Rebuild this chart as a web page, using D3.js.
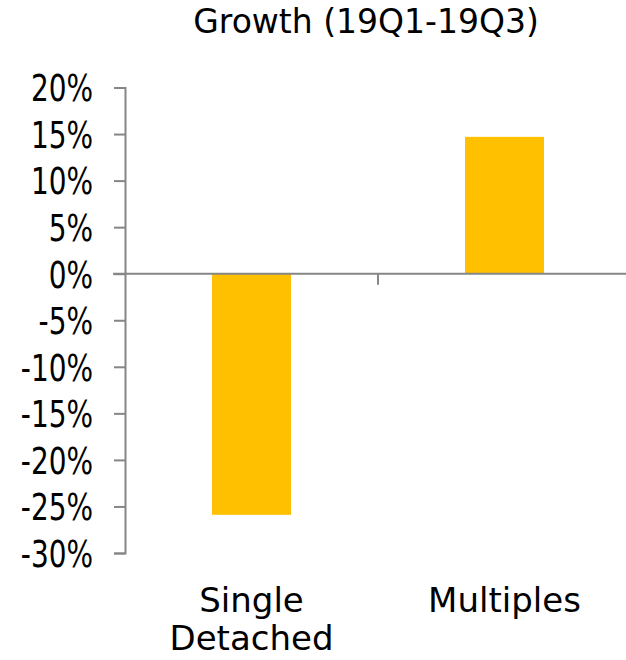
<!DOCTYPE html>
<html>
<head>
<meta charset="utf-8">
<script src="https://cdn.jsdelivr.net/npm/d3@7"></script>
<style>
  html, body { margin: 0; padding: 0; background: #fff; }
  svg { display: block; }
  text { font-family: "DejaVu Sans", sans-serif; fill: #000; }
</style>
</head>
<body>
<script>
// Growth by dwelling type, 19Q1 to 19Q3
const categories = [["Single", "Detached"], ["Multiples"]];
const growth = [-0.259, 0.147];
const tickValues = [0.20, 0.15, 0.10, 0.05, 0, -0.05, -0.10, -0.15, -0.20, -0.25, -0.30];
const title = "Growth (19Q1-19Q3)";

const W = 626, H = 660;
const margin = { left: 125, top: 87.5, bottom: 553 };
const plotRight = 631;

const svg = d3.select("body").append("svg").attr("width", W).attr("height", H);

const y = d3.scaleLinear().domain([-0.30, 0.20]).range([margin.bottom, margin.top]);
const x = d3.scaleBand().domain(d3.range(categories.length)).range([margin.left, plotRight])
  .paddingInner(0).paddingOuter(0);
const barW = x.bandwidth() * 0.312;

// Title
svg.append("text").attr("x", 366).attr("y", 33)
  .attr("text-anchor", "middle").style("font-size", "33px").text(title);

// Bars
svg.selectAll("rect.bar").data(growth).enter().append("rect")
  .attr("class", "bar")
  .attr("x", (d, i) => x(i) + x.bandwidth() / 2 - barW / 2)
  .attr("width", barW)
  .attr("y", d => y(Math.max(0, d)))
  .attr("height", d => Math.abs(y(d) - y(0)))
  .attr("fill", "#FFC000");

const axisColor = "#868686";

// Y axis: tall, narrow percentage labels
const labelSqueeze = 0.84;
const labelGap = 21;
const yAxis = svg.append("g").attr("transform", `translate(${margin.left},0)`)
  .call(d3.axisLeft(y).tickValues(tickValues).tickSize(11).tickPadding(labelGap)
    .tickFormat(d => Math.round(d * 100) + "%"));
yAxis.attr("font-family", null);
yAxis.select(".domain").attr("stroke", axisColor).attr("stroke-width", 2);
yAxis.selectAll(".tick line").attr("stroke", axisColor).attr("stroke-width", 2);
yAxis.selectAll(".tick text")
  .style("font-family", '"DejaVu Sans Condensed", "DejaVu Sans", sans-serif')
  .style("font-stretch", "condensed")
  .style("font-size", "37px").attr("fill", "#000")
  .attr("x", -(11 + labelGap) / labelSqueeze)
  .attr("transform", `scale(${labelSqueeze},1)`)
  .attr("dy", "0.36em");

// Zero baseline with category separators
const xAxis = svg.append("g").attr("transform", `translate(0,${y(0)})`)
  .call(d3.axisBottom(x).tickValues([]).tickSizeOuter(0));
xAxis.select(".domain").attr("stroke", axisColor).attr("stroke-width", 2)
  .attr("d", `M${margin.left - 12},0H${plotRight}`);
xAxis.selectAll(".sep").data(d3.range(1, categories.length)).enter().append("line")
  .attr("class", "sep")
  .attr("x1", i => x(i)).attr("x2", i => x(i))
  .attr("y1", 0).attr("y2", 11)
  .attr("stroke", axisColor).attr("stroke-width", 2);

// Category labels
categories.forEach((lines, i) => {
  const t = svg.append("text")
    .attr("x", x(i) + x.bandwidth() / 2)
    .attr("y", 612)
    .attr("text-anchor", "middle")
    .style("font-size", "34px");
  lines.forEach((ln, j) => {
    t.append("tspan").attr("x", x(i) + x.bandwidth() / 2).attr("dy", j === 0 ? 0 : 38).text(ln);
  });
});
</script>
</body>
</html>
